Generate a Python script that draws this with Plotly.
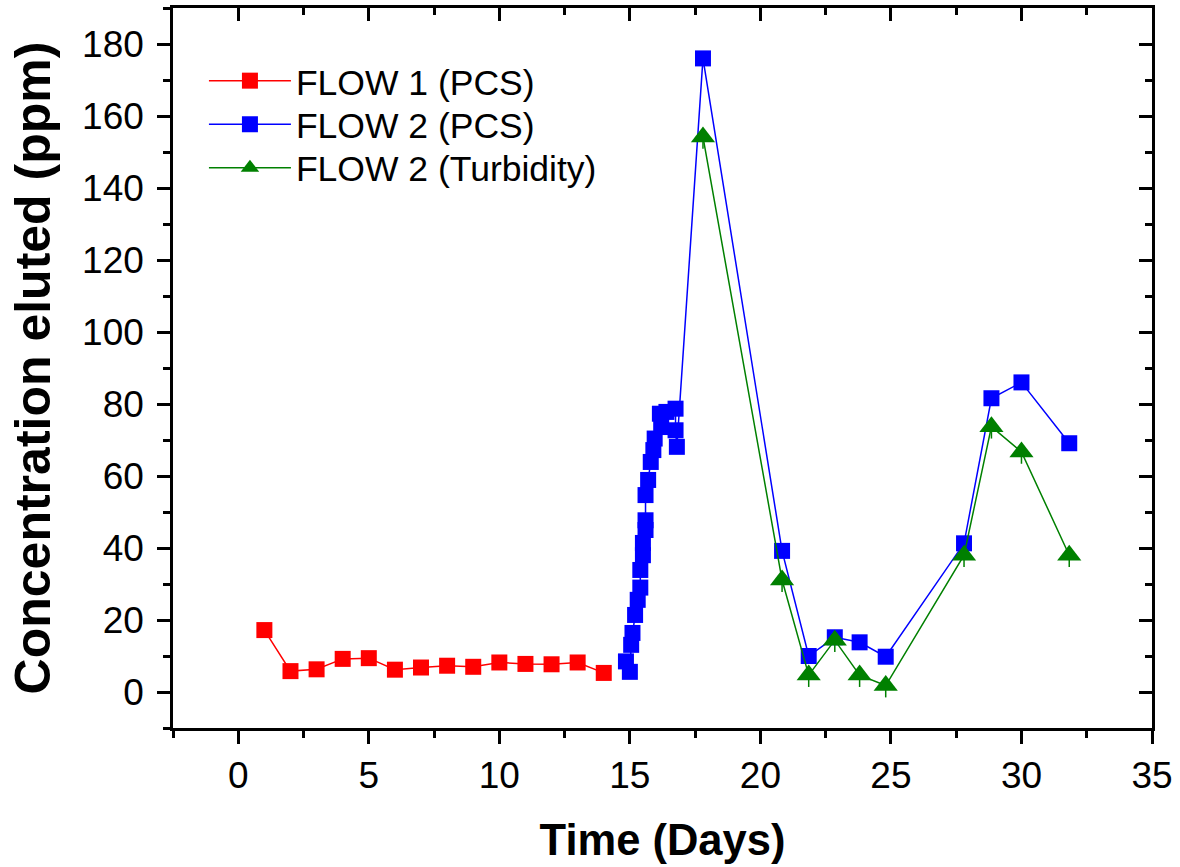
import plotly.graph_objects as go

# ---- data ----
flow1_days = [1, 2, 3, 4, 5, 6, 7, 8, 9, 10, 11, 12, 13, 14]
flow1_pcs = [17.2, 5.8, 6.3, 9.2, 9.4, 6.2, 6.8, 7.3, 7.0, 8.2, 7.8, 7.7, 8.2, 5.3]

flow2_days = [14.85, 15.0, 15.05, 15.1, 15.2, 15.3, 15.4, 15.4, 15.5, 15.5, 15.6, 15.6,
              15.6, 15.7, 15.8, 15.9, 15.95, 16.15, 16.2, 16.4, 16.75, 16.75, 16.8,
              17.8, 20.83, 21.85, 22.85, 23.8, 24.8, 27.8, 28.85, 30.0, 31.83]
flow2_pcs = [8.5, 5.6, 13.1, 16.4, 21.4, 25.6, 29.0, 33.9, 38.0, 41.4, 45.0, 47.7,
             54.7, 58.9, 63.9, 67.2, 70.4, 77.3, 73.6, 77.8, 78.7, 72.7, 68.1,
             176.0, 39.2, 10.0, 15.2, 13.8, 9.8, 41.3, 81.6, 86.0, 69.1]

turb_days = [17.8, 20.83, 21.85, 22.85, 23.8, 24.8, 27.8, 28.85, 30.0, 31.83]
turb_vals = [154.2, 31.1, 4.7, 14.4, 4.7, 1.8, 38.0, 73.7, 66.7, 38.0]
turb_err = [3.3, 3.3, 3.3, 3.3, 3.3, 3.3, 3.3, 3.3, 3.3, 3.3]

x_range = [-2.5, 35]
y_range = [-10, 190]

FONT = "Arial, Liberation Sans, sans-serif"
RED = "rgb(255,0,0)"
BLUE = "rgb(0,0,255)"
GREEN = "rgb(0,128,0)"

fig = go.Figure()
fig.add_trace(go.Scatter(x=flow1_days, y=flow1_pcs, mode="lines+markers", name="FLOW 1 (PCS)",
                         line=dict(color=RED, width=1.5), legend="legend",
                         marker=dict(symbol="square", size=16, color=RED)))
fig.add_trace(go.Scatter(x=flow2_days, y=flow2_pcs, mode="lines+markers", name="FLOW 2 (PCS)",
                         line=dict(color=BLUE, width=1.5), legend="legend2",
                         marker=dict(symbol="square", size=16, color=BLUE)))
fig.add_trace(go.Scatter(x=turb_days, y=turb_vals, mode="lines+markers", name="FLOW 2 (Turbidity)",
                         line=dict(color=GREEN, width=1.5), legend="legend3",
                         marker=dict(symbol="triangle-up", size=21, color=GREEN),
                         error_y=dict(type="data", symmetric=False, array=[0]*len(turb_err),
                                      arrayminus=turb_err, color=GREEN, thickness=1.5, width=0)))
# dummy trace for mirrored (inside-tick) axes
fig.add_trace(go.Scatter(x=[None], y=[None], xaxis="x2", yaxis="y2", showlegend=False,
                         hoverinfo="skip"))

axis_common = dict(showgrid=False, zeroline=False, showline=True, linecolor="black",
                   linewidth=2.5, tickcolor="black", tickwidth=2.5)

leg_common = dict(x=0.0316, xanchor="left", yanchor="middle", bgcolor="rgba(0,0,0,0)",
                  font=dict(size=35.5, family=FONT), itemwidth=82)

fig.update_layout(
    width=1180, height=867,
    paper_bgcolor="white", plot_bgcolor="white",
    margin=dict(l=173, r=28, t=8, b=139, autoexpand=False),
    font=dict(family=FONT, color="black"),
    xaxis=dict(range=x_range, tick0=0, dtick=5, ticks="outside", ticklen=13,
               tickfont=dict(size=37), ticklabelstandoff=0,
               minor=dict(dtick=2.5, tick0=0, ticks="outside", ticklen=7, tickwidth=2.5,
                          tickcolor="black"),
               title=dict(text="<b>Time (Days)</b>", font=dict(size=43.5), standoff=30),
               **axis_common),
    yaxis=dict(range=y_range, tick0=0, dtick=20, ticks="outside", ticklen=13,
               tickfont=dict(size=37), ticklabelstandoff=6,
               minor=dict(dtick=10, tick0=0, ticks="outside", ticklen=7, tickwidth=2.5,
                          tickcolor="black"),
               title=dict(text="<b>Concentration eluted (ppm)</b>", font=dict(size=50), standoff=16),
               **axis_common),
    xaxis2=dict(range=x_range, overlaying="x", side="top", anchor="y", tick0=0, dtick=5,
                ticks="inside", ticklen=13, showticklabels=False,
                minor=dict(dtick=2.5, tick0=0, ticks="inside", ticklen=7, tickwidth=2.5,
                           tickcolor="black"),
                **axis_common),
    yaxis2=dict(range=y_range, overlaying="y", side="right", anchor="x", tick0=0, dtick=20,
                ticks="inside", ticklen=13, showticklabels=False,
                minor=dict(dtick=10, tick0=0, ticks="inside", ticklen=7, tickwidth=2.5,
                           tickcolor="black"),
                **axis_common),
    legend=dict(y=0.8985, **leg_common),
    legend2=dict(y=0.8381, **leg_common),
    legend3=dict(y=0.7777, **leg_common),
    showlegend=True,
)

fig.write_html("out.html", config={"displayModeBar": False},
               post_script="document.body.style.margin='0';")
